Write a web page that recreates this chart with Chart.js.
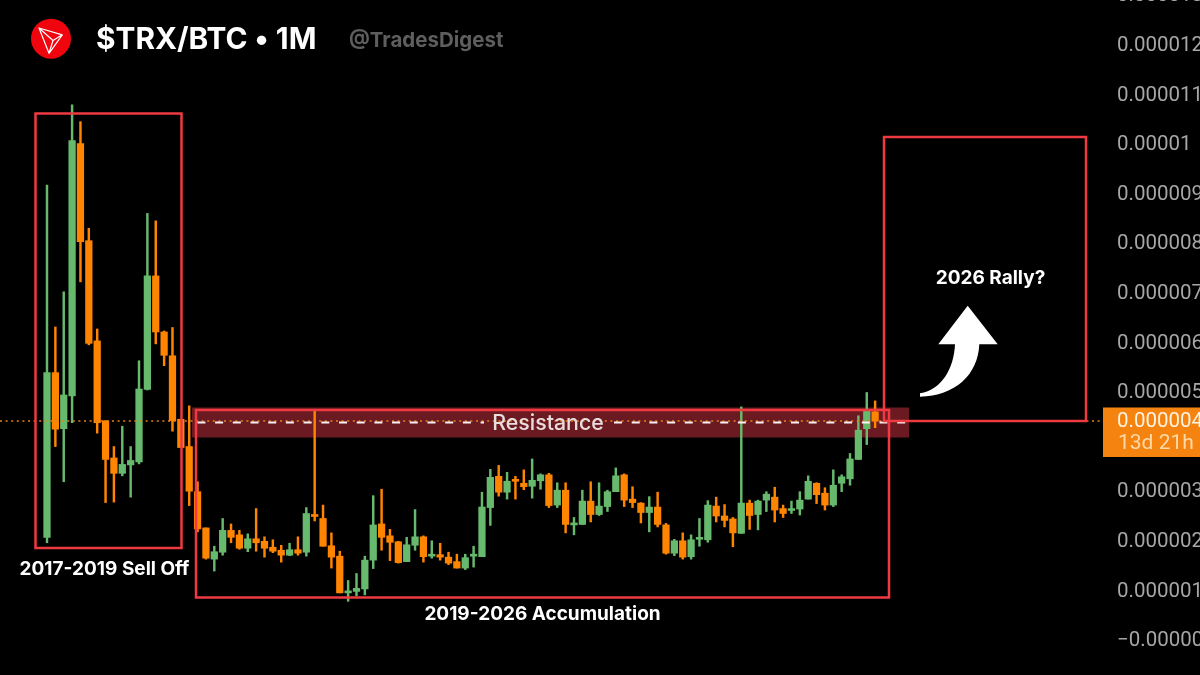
<!DOCTYPE html>
<html>
<head>
<meta charset="utf-8">
<title>TRX/BTC 1M</title>
<script src="https://cdn.jsdelivr.net/npm/chart.js@4"></script>
<style>
  html, body { margin: 0; background: #000; overflow: hidden; width: 1200px; height: 675px; }
  #wrap { position: absolute; left: 0; top: -40px; width: 1300px; height: 755px; }
</style>
</head>
<body>
<div id="wrap"><canvas id="chart" width="1300" height="755"></canvas></div>
<script>
// prices are in 1e-8 BTC (sats), one entry per monthly candle
var opens = [204,536,423,489,998,802,600,439,364,333,350,356,502,731,618,570,442,387,296,223,
  160,174,218,209,182,201,196,184,178,168,179,174,249,242,187,166,92,95,100,158,
  231,207,195,155,188,205,166,169,164,155,142,166,165,264,327,295,320,313,307,318,
  330,269,299,229,230,277,250,266,296,330,281,273,254,265,229,172,197,165,200,199,
  267,247,241,212,273,250,279,285,262,258,261,281,313,293,269,313,322,361,423,457];
var highs = [914,628,699,1076,1042,827,624,439,387,428,387,560,857,842,620,627,442,469,316,223,
  186,242,231,218,211,262,205,199,188,192,205,264,461,269,213,176,117,131,166,288,
  301,220,196,204,260,207,197,192,174,170,170,186,295,341,349,335,327,340,362,332,
  333,314,314,244,299,316,314,299,344,332,306,274,286,295,232,200,213,209,242,278,
  285,270,244,467,279,279,296,305,269,277,296,328,314,304,340,330,373,449,496,479];
var lows = [193,387,316,435,719,592,414,274,275,328,285,352,501,594,550,418,385,268,215,160,
  136,168,193,180,175,176,164,173,154,167,168,166,237,186,142,92,75,86,88,141,
  178,157,152,155,178,154,162,158,149,142,139,144,165,228,287,281,281,300,283,301,
  264,264,213,209,230,235,248,256,296,266,264,233,215,225,170,167,160,160,186,194,
  235,225,185,212,220,219,256,235,244,252,249,281,272,259,266,296,309,361,391,425];
var closes = [536,422,491,1004,800,595,435,361,333,351,359,503,731,618,571,439,385,297,221,162,
  175,218,204,182,201,193,182,176,168,179,172,252,246,186,164,92,96,101,158,229,
  204,194,153,189,205,165,169,164,152,142,163,168,265,325,295,317,317,306,319,330,
  268,299,230,233,277,250,267,296,328,279,274,254,265,230,172,197,164,199,202,269,
  247,238,213,273,248,277,291,259,252,262,279,317,290,269,309,326,362,420,458,438];

var tickValues = [1300,1200,1100,1000,900,800,700,600,500,400,300,200,100,0];
var tickLabels = ['0.000013','0.000012','0.000011','0.00001','0.000009','0.000008','0.000007',
  '0.000006','0.000005','0.000004','0.000003','0.000002','0.000001','\u22120.000000'];

var lastPriceLabel = '0.000004';
var countdownLabel = '13d 21h';

var UP = '#67b96d';
var DOWN = '#ff8400';
var RED = '#ee3a40';
var TOP_OFFSET = 40; // canvas starts above the window so the top tick gets cut off

function candleColor(i) {
  return closes[i] >= opens[i] ? UP : DOWN;
}

var wicks = lows.map(function (l, i) { return { x: i, y: [l, highs[i]] }; });
var bodies = opens.map(function (o, i) { return { x: i, y: [o, closes[i]] }; });

function box(ctx, x, y, w, h) {
  ctx.strokeStyle = RED;
  ctx.lineWidth = 2.5;
  ctx.strokeRect(x, y, w, h);
}

function label(ctx, text, x, y, font, color, align) {
  ctx.font = font;
  ctx.fillStyle = color;
  ctx.textAlign = align || 'left';
  ctx.textBaseline = 'middle';
  ctx.fillText(text, x, y);
}

// resistance band goes under the candles
var bandPlugin = {
  id: 'band',
  beforeDatasetsDraw: function (chart) {
    var ctx = chart.ctx;
    ctx.save();
    ctx.translate(0, TOP_OFFSET);
    ctx.fillStyle = '#6b1a22';
    ctx.fillRect(192, 407.5, 717, 30);
    ctx.restore();
  }
};

// tick text sits a bit high in Roboto, nudge it down
var tickNudgePlugin = {
  id: 'tickNudge',
  beforeDraw: function (chart) {
    var axis = chart.scales.y;
    if (axis.nudged) return;
    axis.nudged = true;
    var drawLabels = axis.drawLabels;
    axis.drawLabels = function (area) {
      chart.ctx.save();
      chart.ctx.translate(0, 2.5);
      drawLabels.call(axis, area);
      chart.ctx.restore();
    };
  }
};

var overlayPlugin = {
  id: 'overlay',
  afterDraw: function (chart) {
    var ctx = chart.ctx;
    ctx.save();
    ctx.translate(0, TOP_OFFSET);

    // last price dotted line
    ctx.strokeStyle = '#e8801a';
    ctx.lineWidth = 1.4;
    ctx.setLineDash([2, 3.6]);
    ctx.beginPath();
    ctx.moveTo(0, 421);
    ctx.lineTo(1103, 421);
    ctx.stroke();

    // white dashes, gap behind the Resistance text
    ctx.strokeStyle = '#fbf3f3';
    ctx.lineWidth = 2;
    ctx.setLineDash([8, 9.7]);
    ctx.lineDashOffset = 10.3;
    ctx.beginPath();
    ctx.moveTo(190, 422.5);
    ctx.lineTo(484, 422.5);
    ctx.stroke();
    ctx.lineDashOffset = 0;
    ctx.beginPath();
    ctx.moveTo(614, 422.5);
    ctx.lineTo(908, 422.5);
    ctx.stroke();
    ctx.setLineDash([]);

    box(ctx, 35.5, 113.5, 146, 434.5);
    box(ctx, 196, 410, 693, 187.5);
    box(ctx, 884, 137, 202, 284);

    label(ctx, 'Resistance', 548, 424, '500 21.3px Inter', '#e9dcdc', 'center');
    label(ctx, '2017-2019 Sell Off', 104.5, 569.5, '700 19px Inter', '#fff', 'center');
    label(ctx, '2019-2026 Accumulation', 542.5, 614.5, '700 19px Inter', '#fff', 'center');
    label(ctx, '2026 Rally?', 990.5, 278, '700 19px Inter', '#fff', 'center');

    // arrow
    ctx.fillStyle = '#fff';
    ctx.beginPath();
    ctx.moveTo(967.7, 305.7);
    ctx.lineTo(997.7, 344.3);
    ctx.lineTo(979.3, 344.3);
    ctx.bezierCurveTo(978, 375, 955, 396, 920, 396.7);
    ctx.lineTo(920, 393.3);
    ctx.bezierCurveTo(942, 390, 954, 368, 955, 344.3);
    ctx.lineTo(938.3, 344.3);
    ctx.closePath();
    ctx.fill();

    // price tag on the axis
    ctx.fillStyle = '#f5830f';
    ctx.fillRect(1103, 407.5, 97, 49.5);
    label(ctx, lastPriceLabel, 1117, 421.5, '20.5px Roboto', '#fff3e2');
    label(ctx, countdownLabel, 1118, 444, '21px Roboto', '#ffd9a8');

    // header
    ctx.fillStyle = '#f0050f';
    ctx.beginPath();
    ctx.arc(51, 38.7, 20, 0, Math.PI * 2);
    ctx.fill();
    ctx.strokeStyle = '#fff';
    ctx.lineWidth = 1.2;
    ctx.lineJoin = 'round';
    ctx.beginPath();
    ctx.moveTo(39, 28);
    ctx.lineTo(62.3, 34.8);
    ctx.lineTo(49, 53.3);
    ctx.closePath();
    ctx.moveTo(39, 28);
    ctx.lineTo(53, 40.5);
    ctx.lineTo(49, 53.3);
    ctx.moveTo(53, 40.5);
    ctx.lineTo(62.3, 34.8);
    ctx.stroke();

    label(ctx, '$TRX/BTC \u2022 1M', 96, 40, '700 29.8px Inter', '#fff');
    label(ctx, '@TradesDigest', 349, 41, '700 20.5px Inter', '#5e5e5e');

    ctx.restore();
  }
};

new Chart(document.getElementById('chart'), {
  type: 'bar',
  data: {
    datasets: [
      {
        label: 'wick',
        data: wicks,
        barThickness: 1.8,
        backgroundColor: wicks.map(function (w, i) { return candleColor(i); }),
        grouped: false,
        order: 2
      },
      {
        label: 'body',
        data: bodies,
        barThickness: 6.6,
        minBarLength: 2,
        backgroundColor: bodies.map(function (b, i) { return candleColor(i); }),
        grouped: false,
        order: 1
      }
    ]
  },
  options: {
    responsive: false,
    animation: false,
    layout: { padding: 0 },
    plugins: { legend: { display: false }, tooltip: { enabled: false } },
    scales: {
      x: {
        type: 'linear',
        display: false,
        offset: false,
        min: -5.619,
        max: 127.08,
        grid: { display: false }
      },
      y: {
        position: 'right',
        min: -154.2,
        max: 1367.9,
        grid: { display: false, drawTicks: false },
        border: { display: false },
        afterFit: function (axis) {
          axis.width = 190;
          axis.paddingTop = 0;
          axis.paddingBottom = 0;
        },
        afterBuildTicks: function (axis) {
          axis.ticks = tickValues.map(function (v) { return { value: v }; });
        },
        ticks: {
          autoSkip: false,
          padding: 7,
          color: '#a6a6a6',
          font: { family: 'Roboto', size: 20.5 },
          callback: function (value) {
            return tickLabels[tickValues.indexOf(value)];
          }
        }
      }
    }
  },
  plugins: [bandPlugin, tickNudgePlugin, overlayPlugin]
});
</script>
</body>
</html>
